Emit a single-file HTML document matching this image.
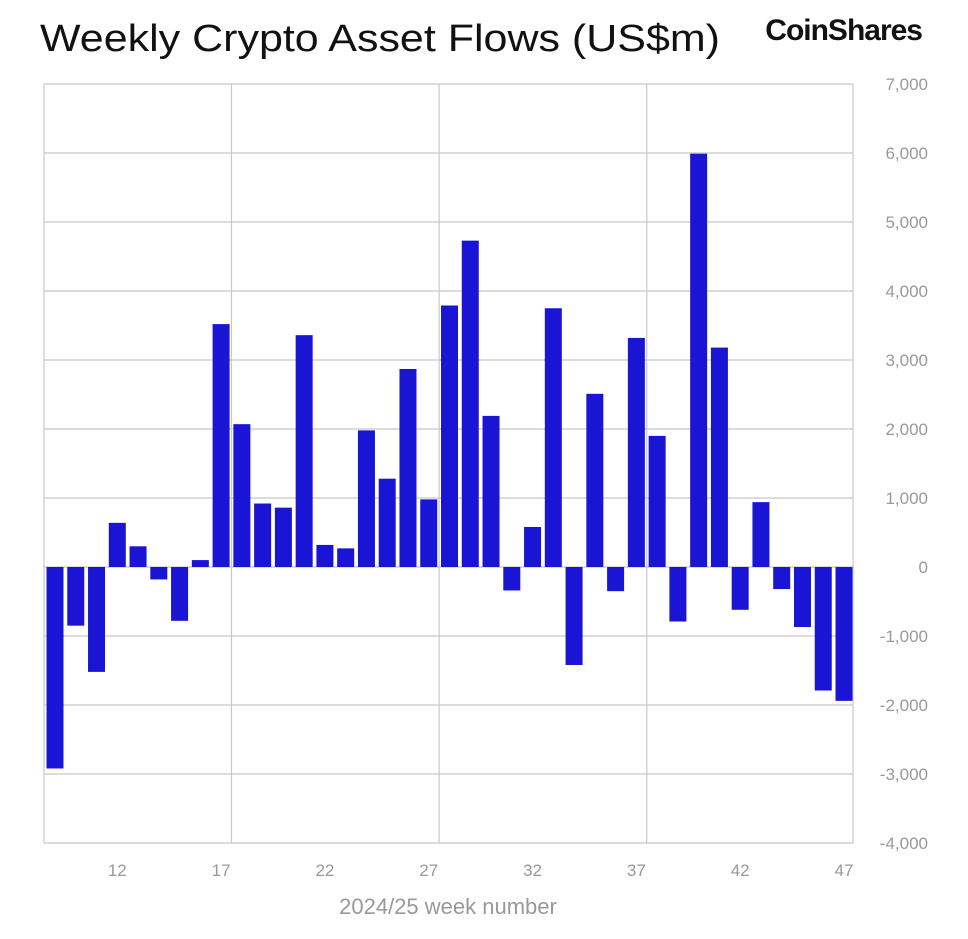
<!DOCTYPE html>
<html><head><meta charset="utf-8"><style>
body{margin:0;background:#fff;width:968px;height:934px;overflow:hidden;font-family:"Liberation Sans",sans-serif}
</style></head><body>
<svg id="chart" width="968" height="934" xmlns="http://www.w3.org/2000/svg">
<text x="40" y="51" font-size="38" fill="#111" textLength="680" lengthAdjust="spacingAndGlyphs" font-family="Liberation Sans, sans-serif">Weekly Crypto Asset Flows (US$m)</text>
<text x="922" y="40" text-anchor="end" font-size="30" font-weight="bold" fill="#111" letter-spacing="-1" font-family="Liberation Sans, sans-serif">CoinShares</text>
<g id="grid"></g><g id="bars"></g><g id="labels"></g>
<text x="448" y="914" text-anchor="middle" font-size="22" fill="#999" font-family="Liberation Sans, sans-serif">2024/25 week number</text>
</svg>
<script>
const weeks=[9,10,11,12,13,14,15,16,17,18,19,20,21,22,23,24,25,26,27,28,29,30,31,32,33,34,35,36,37,38,39,40,41,42,43,44,45,46,47];
const flows=[-2920,-850,-1520,640,300,-180,-780,100,3520,2070,920,860,3360,320,270,1980,1280,2870,980,3790,4730,2190,-340,580,3750,-1420,2510,-350,3320,1900,-790,5990,3180,-620,940,-320,-870,-1790,-1940];
const yTicks=[7000,6000,5000,4000,3000,2000,1000,0,-1000,-2000,-3000,-4000];
const xTicks=[12,17,22,27,32,37,42,47];
const vGrid=[17.5,27.5,37.5];
const NS="http://www.w3.org/2000/svg";
const L=44,R=853,T=84,B=843,yMin=-4000,yMax=7000;
const y=v=>T+(yMax-v)/(yMax-yMin)*(B-T);
const x=w=>55+(w-9)*(844-55)/38;
function mk(t,a){const e=document.createElementNS(NS,t);for(const k in a)e.setAttribute(k,a[k]);return e;}
const g=document.getElementById('grid'),bg=document.getElementById('bars'),lg=document.getElementById('labels');
yTicks.forEach(v=>{
 const ln=mk('line',{x1:L,x2:R,y1:y(v),y2:y(v),stroke:'#c8c8c8','stroke-width':1.2});
 
 
 g.appendChild(ln);
 const t=mk('text',{x:928,y:y(v)+6,'text-anchor':'end','font-size':17,fill:'#999'});
 t.textContent=v.toLocaleString('en-US');
 
 
 lg.appendChild(t);
});
[L,R].concat(vGrid.map(x)).forEach(px=>{
 const ln=mk('line',{x1:px,x2:px,y1:T,y2:B,stroke:'#c8c8c8','stroke-width':1.2});
 
 
 g.appendChild(ln);
});
weeks.forEach((w,i)=>{
 const v=flows[i],y0=y(0),y1=y(v);
 const r=mk('rect',{x:x(w)-8.5,width:17,y:Math.min(y0,y1),height:Math.abs(y1-y0),fill:'#1a14d4'});
 
 
 bg.appendChild(r);
});
xTicks.forEach(w=>{
 const t=mk('text',{x:x(w),y:876,'text-anchor':'middle','font-size':17,fill:'#999'});
 t.textContent=w;
 
 
 lg.appendChild(t);
});
</script>
</body></html>
